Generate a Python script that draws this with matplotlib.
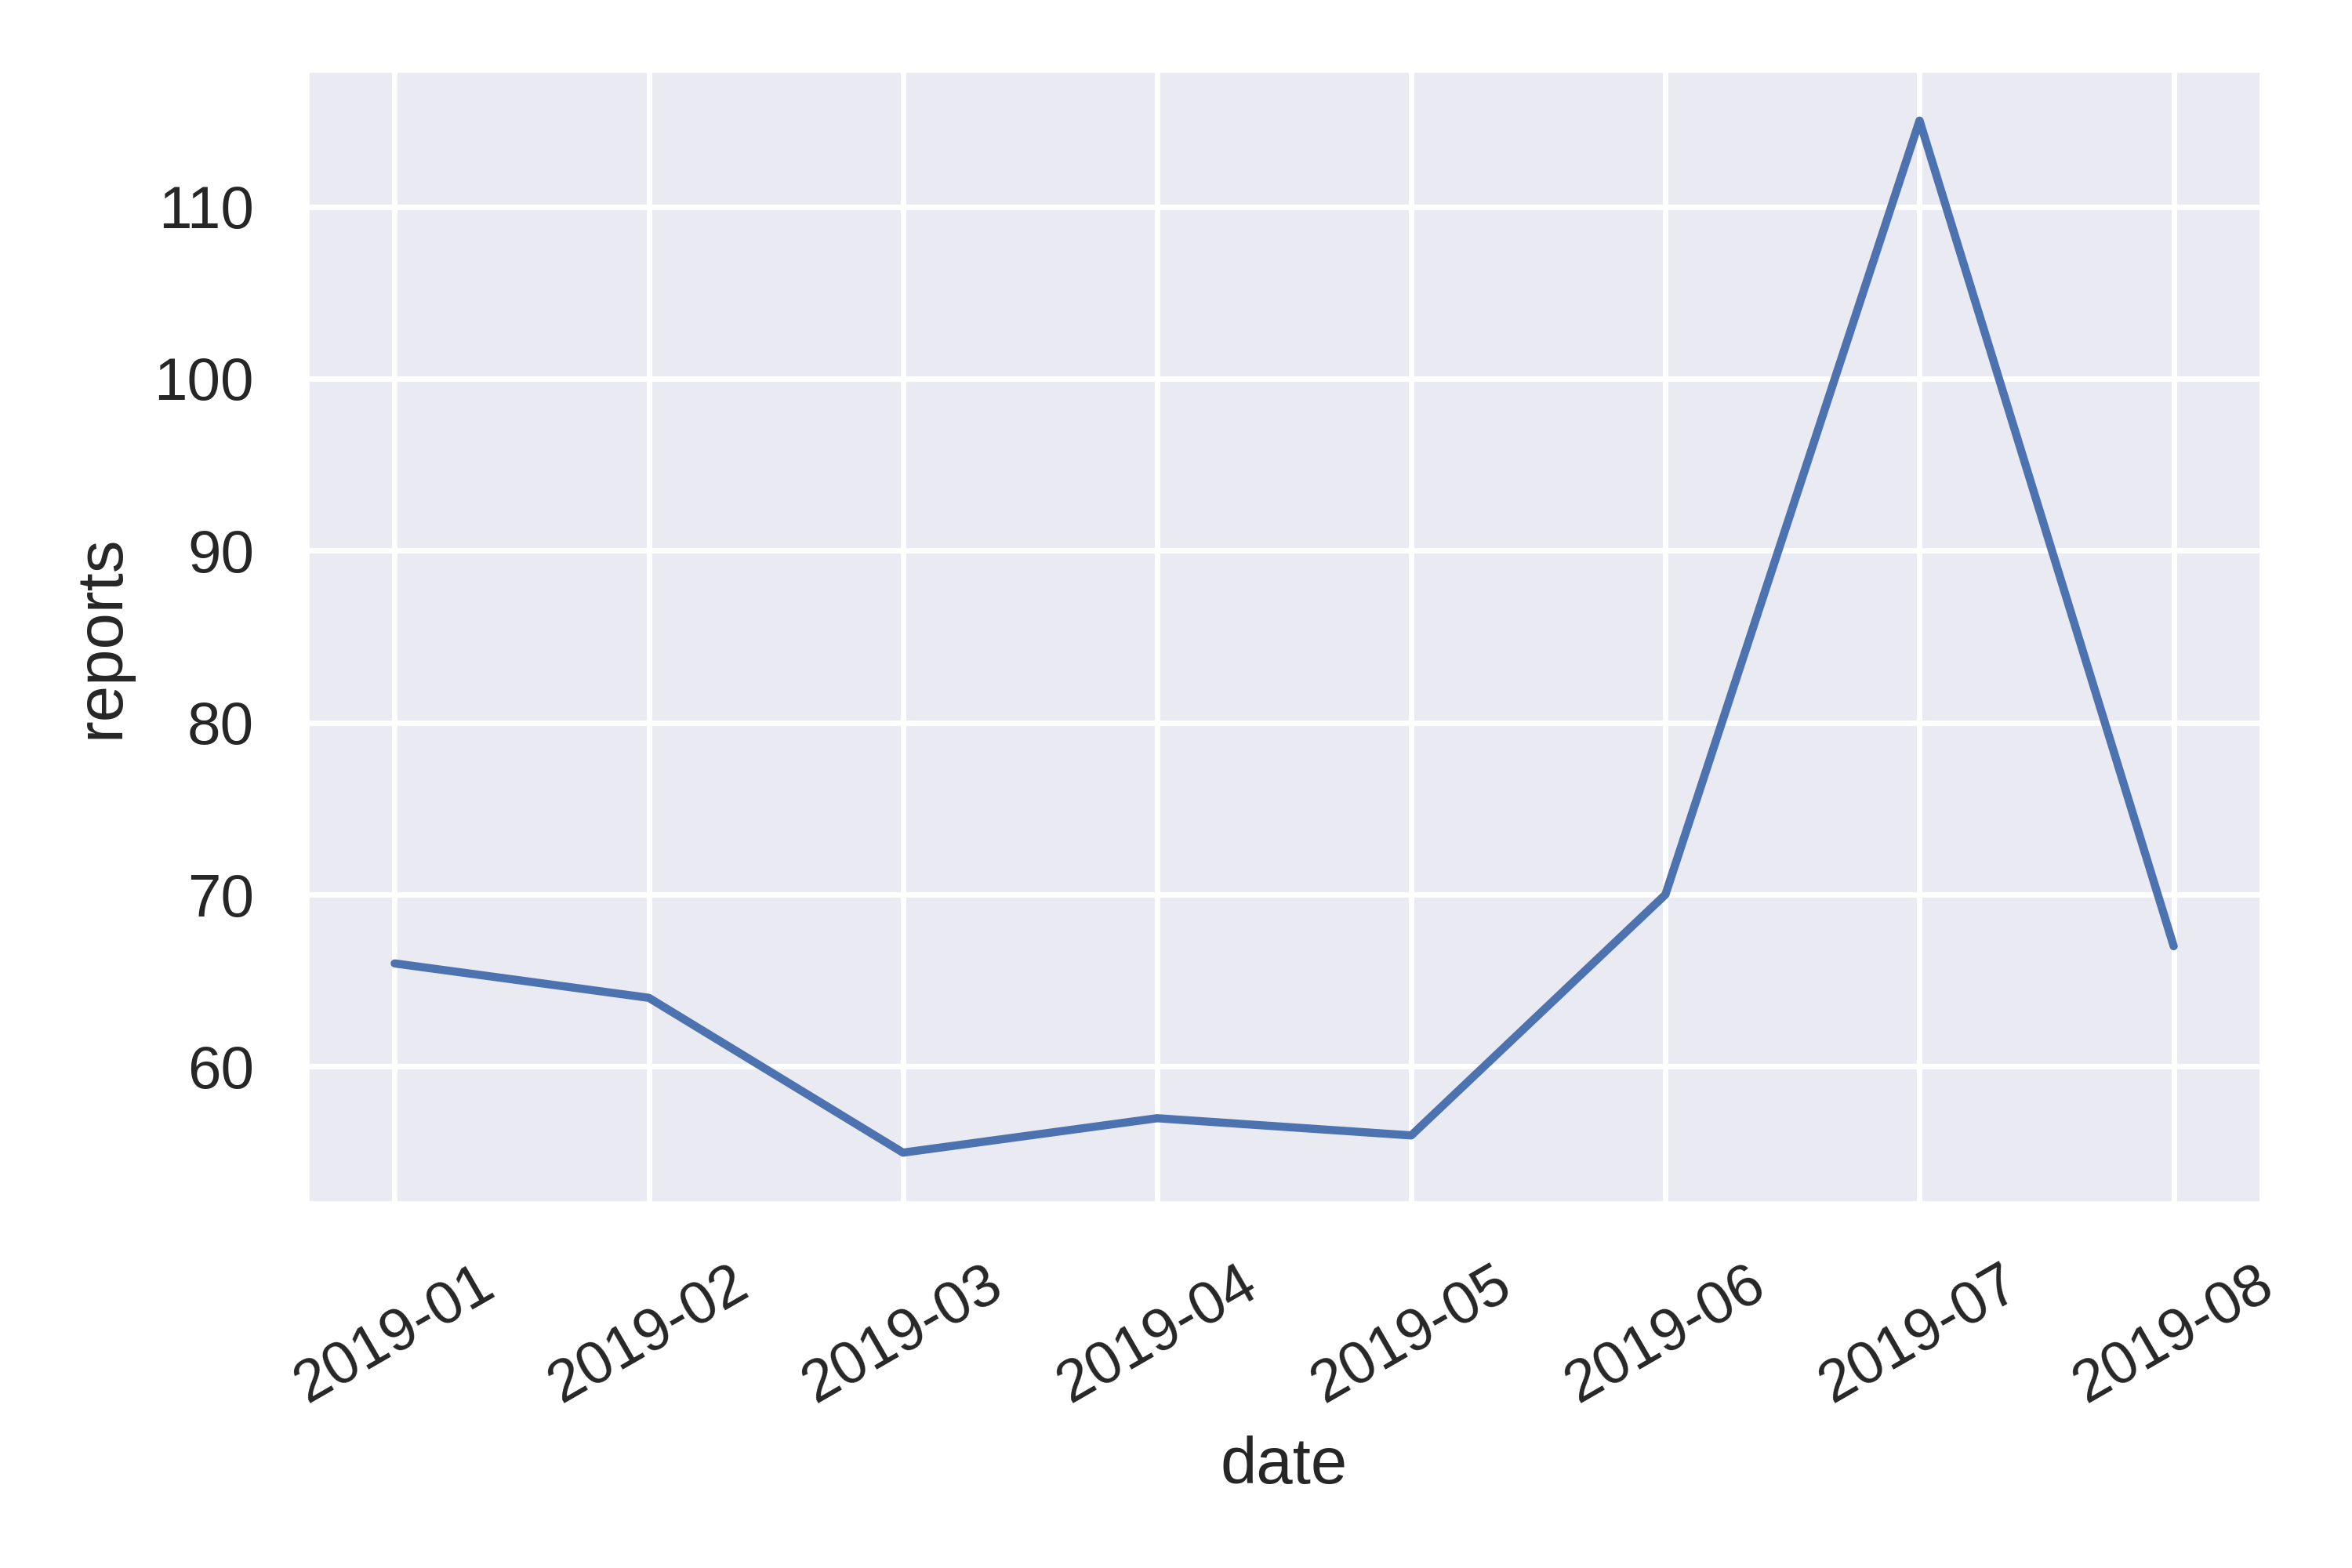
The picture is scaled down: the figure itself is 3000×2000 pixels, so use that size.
import pandas as pd
import matplotlib
matplotlib.use("Agg")
import matplotlib.pyplot as plt
import seaborn as sns

# monthly reports (months plotted as categories, evenly spaced)
dates = ["2019-01", "2019-02", "2019-03", "2019-04", "2019-05", "2019-06", "2019-07", "2019-08"]
reports = [66, 64, 55, 57, 56, 70, 115, 67]

df = pd.DataFrame({"date": dates, "reports": reports})

sns.set_theme(style="darkgrid")
plt.rcParams['font.family'] = ['Liberation Sans', 'DejaVu Sans']

fig, ax = plt.subplots(figsize=(6, 4), dpi=500)
sns.lineplot(data=df, x="date", y="reports", ax=ax)
plt.xticks(rotation=30)
fig.subplots_adjust(left=0.13, right=0.962, top=0.956, bottom=0.232)
fig.savefig("out.png")
